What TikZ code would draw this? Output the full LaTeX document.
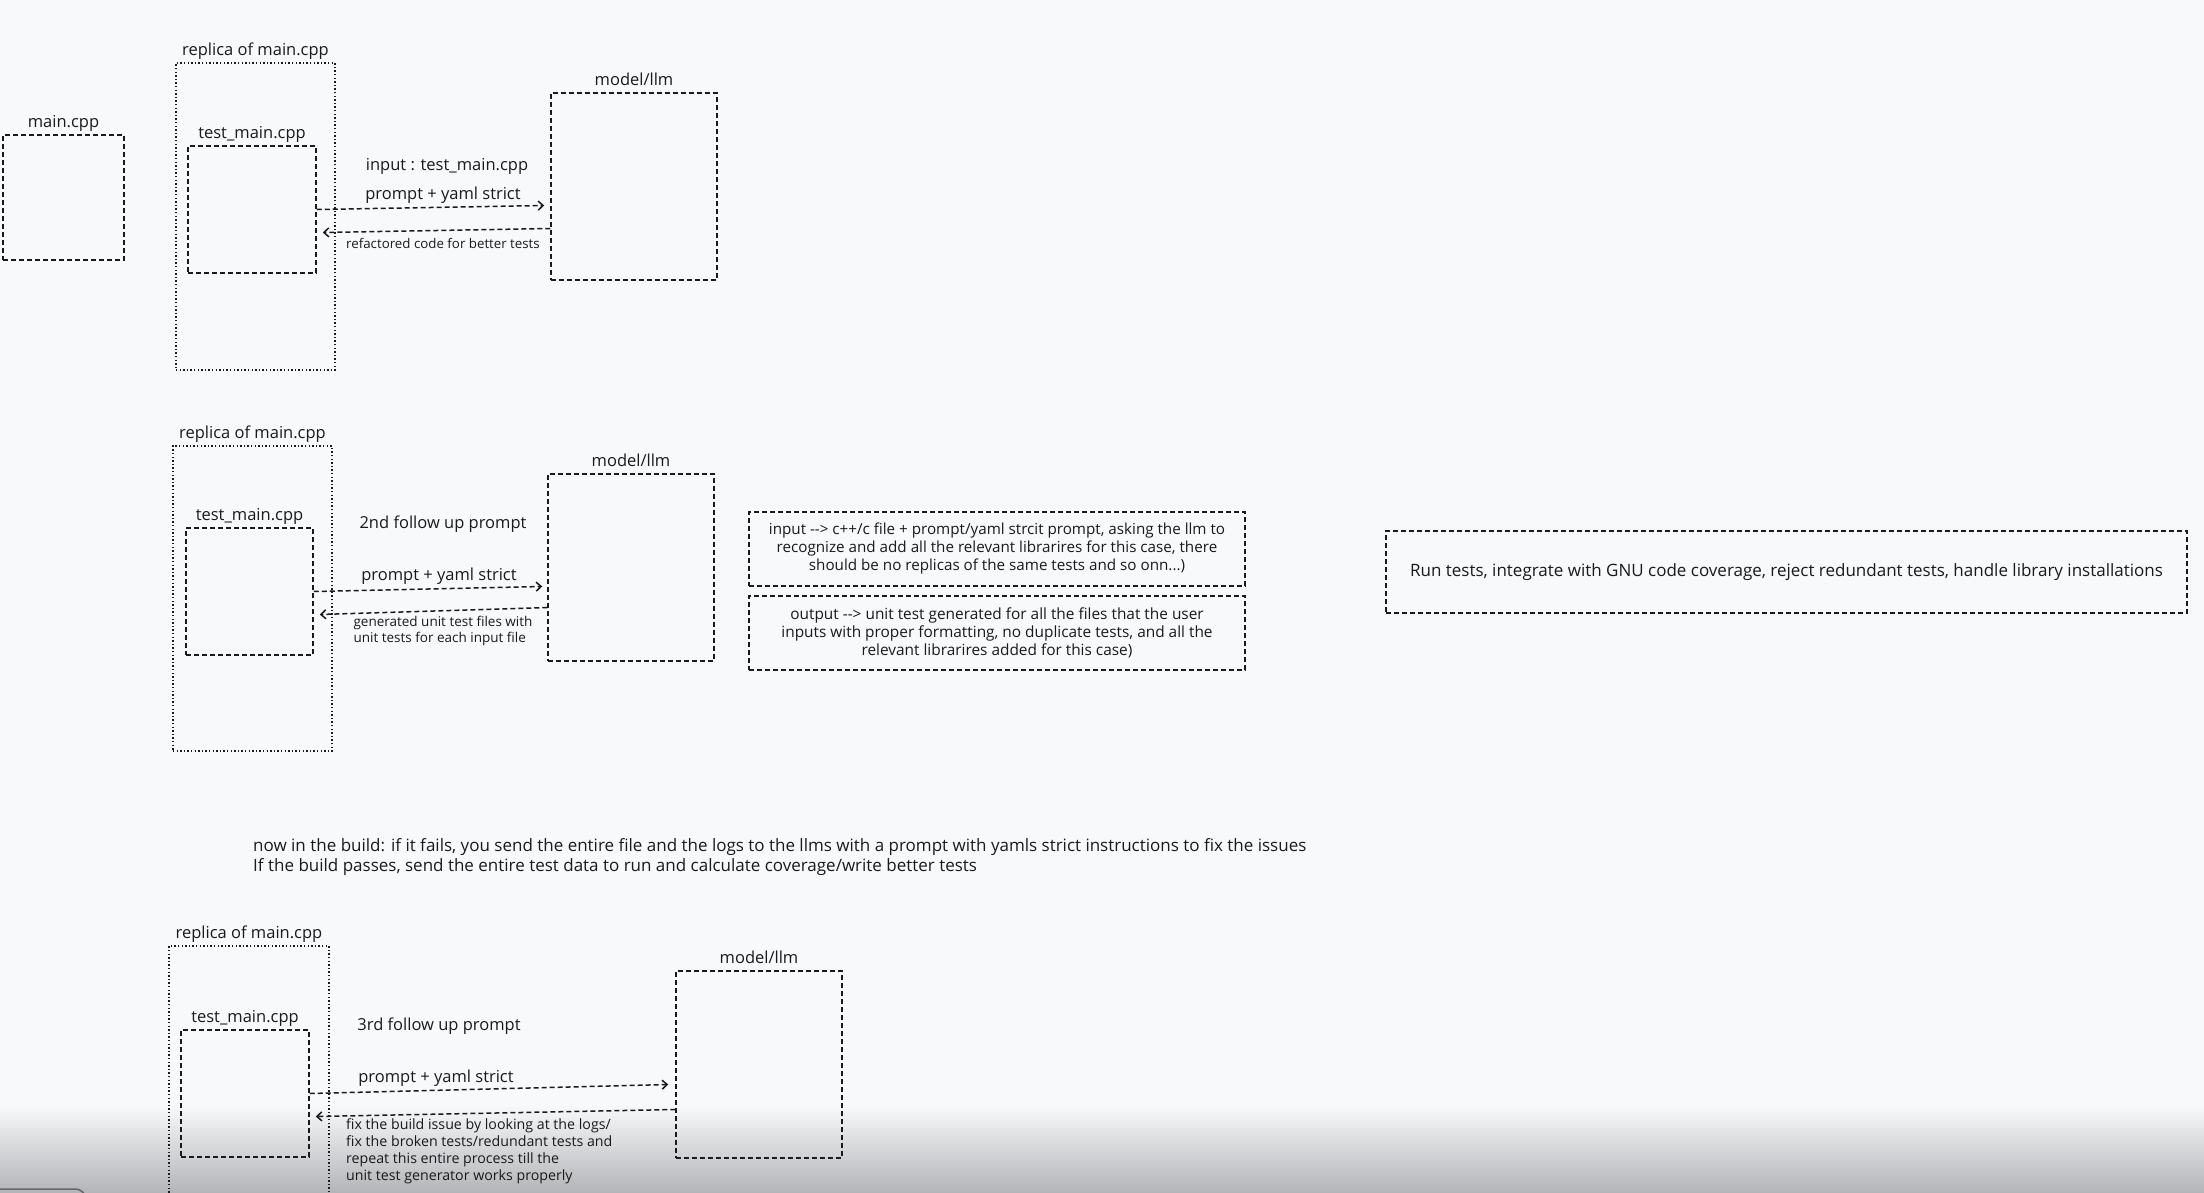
\documentclass[tikz,border=0pt]{standalone}
\usepackage{fontspec}
\setmainfont{Open Sans}
\usetikzlibrary{arrows.meta,calc}
\definecolor{bgc}{HTML}{F8F9FB}
\definecolor{ink}{HTML}{1A1A1A}
\definecolor{shadebot}{HTML}{B4B5B8}
\tikzset{
  dbox/.style={draw=ink, line width=1.5pt, dash pattern=on 5pt off 3pt, rectangle, inner sep=0pt},
  obox/.style={draw=ink, line width=1.4pt, dash pattern=on 1.4pt off 2.2pt, rectangle, inner sep=0pt},
  lbl/.style={text=ink, inner sep=1pt, font=\fontsize{16.5}{19}\selectfont},
  tlbl/.style={lbl, anchor=base, yshift=7pt},
  slbl/.style={text=ink, inner sep=1pt, font=\fontsize{13.3}{16}\selectfont, align=center},
  arr/.style={draw=ink, line width=1.5pt, dash pattern=on 5pt off 3pt, -{Straight Barb[length=5pt,width=9pt,line width=1.5pt]}},
}
\begin{document}
\begin{tikzpicture}[x=1pt,y=-1pt]
\useasboundingbox (0,0) rectangle (2204,1192);
\fill[bgc] (0,0) rectangle (2204,1192);
\shade[top color=bgc, bottom color=shadebot] (0,1105) rectangle (2204,1192);

% ---------- panel 1 ----------
\node[dbox, minimum width=121pt, minimum height=125pt] (main) at (63.5,197.5) {};
\node[tlbl] (mainl) at (main.north) {main.cpp};
\node[obox, minimum width=159pt, minimum height=307pt] (rep1) at (255.5,216.5) {};
\node[tlbl] (rep1l) at (rep1.north) {replica of main.cpp};
\node[dbox, minimum width=128pt, minimum height=127pt] (tm1) at (252,209.5) {};
\node[tlbl] (tm1l) at (tm1.north) {test\_main.cpp};
\node[dbox, minimum width=166pt, minimum height=187pt] (m1) at (634,186.5) {};
\node[tlbl] (m1l) at (m1.north) {model/llm};
\node[lbl] (in1) at (447,166) {input : test\_main.cpp};
\node[lbl] (p1) at (443,195) {prompt + yaml strict};
\node[slbl] (r1) at (443,243) {refactored code for better tests};
\coordinate (f1e) at ([shift={(-6pt,-19pt)}]m1.west);
\coordinate (b1s) at ([shift={(0pt,-42pt)}]m1.west);
\coordinate (b1e) at ([shift={(6pt,-23pt)}]tm1.east);
\draw[arr] (tm1.east) -- (f1e);
\draw[arr] (b1s) -- (b1e);

% ---------- panel 2 ----------
\node[obox, minimum width=159pt, minimum height=305pt] (rep2) at (252.5,598.5) {};
\node[tlbl] (rep2l) at (rep2.north) {replica of main.cpp};
\node[dbox, minimum width=127pt, minimum height=127pt] (tm2) at (249.5,591.5) {};
\node[tlbl] (tm2l) at (tm2.north) {test\_main.cpp};
\node[dbox, minimum width=166pt, minimum height=187pt] (m2) at (631,567.5) {};
\node[tlbl] (m2l) at (m2.north) {model/llm};
\node[lbl] (fu2) at (443,524) {2nd follow up prompt};
\node[lbl] (p2) at (439,576) {prompt + yaml strict};
\node[slbl, font=\fontsize{13.5}{15.5}\selectfont, align=left] (g2) at (443,631) {generated unit test files with\\unit tests for each input file};
\coordinate (f2e) at ([shift={(-5pt,-19pt)}]m2.west);
\coordinate (b2s) at ([shift={(0pt,-40pt)}]m2.west);
\coordinate (b2e) at ([shift={(6pt,-23pt)}]tm2.east);
\draw[arr] (tm2.east) -- (f2e);
\draw[arr] (b2s) -- (b2e);

\node[dbox, minimum width=496pt, minimum height=74pt, font=\fontsize{15.2}{18}\selectfont, align=center, text=ink] (inb) at (997,549) {input -{}-> c++/c file + prompt/yaml strcit prompt, asking the llm to\\recognize and add all the relevant librarires for this case, there\\should be no replicas of the same tests and so onn...)};
\node[dbox, minimum width=496pt, minimum height=74pt, font=\fontsize{15.4}{18}\selectfont, align=center, text=ink] (outb) at (997,633) {output -{}-> unit test generated for all the files that the user\\inputs with proper formatting, no duplicate tests, and all the\\relevant librarires added for this case)};
\node[dbox, minimum width=801pt, minimum height=82pt, font=\fontsize{17}{19}\selectfont, text=ink] (run) at (1786.5,572) {Run tests, integrate with GNU code coverage, reject redundant tests, handle library installations};

\node[lbl, anchor=west, align=left, font=\fontsize{17}{20}\selectfont] (build) at (252,857) {now in the build: if it fails, you send the entire file and the logs to the llms with a prompt with yamls strict instructions to fix the issues\\If the build passes, send the entire test data to run and calculate coverage/write better tests};

% ---------- panel 3 ----------
\node[obox, minimum width=160pt, minimum height=270pt] (rep3) at (249,1081) {};
\node[tlbl] (rep3l) at (rep3.north) {replica of main.cpp};
\node[dbox, minimum width=128pt, minimum height=127pt] (tm3) at (245,1093.5) {};
\node[tlbl] (tm3l) at (tm3.north) {test\_main.cpp};
\node[dbox, minimum width=166pt, minimum height=187pt] (m3) at (759,1064.5) {};
\node[tlbl] (m3l) at (m3.north) {model/llm};
\node[lbl] (fu3) at (439,1026) {3rd follow up prompt};
\node[lbl] (p3) at (436,1078) {prompt + yaml strict};
\node[slbl, anchor=north west, align=left, font=\fontsize{14.2}{17}\selectfont] (fx3) at (345,1117) {fix the build issue by looking at the logs/\\fix the broken tests/redundant tests and\\repeat this entire process till the\\unit test generator works properly};
\coordinate (f3e) at ([shift={(-7pt,-20pt)}]m3.west);
\coordinate (b3s) at ([shift={(0pt,-45pt)}]m3.west);
\coordinate (b3e) at ([shift={(6pt,-23pt)}]tm3.east);
\draw[arr] (tm3.east) -- (f3e);
\draw[arr] (b3s) -- (b3e);

\draw[black!60, line width=1.5pt, rounded corners=4pt] (0,1189) -- (80,1189) -- (86,1196);
\end{tikzpicture}
\end{document}
